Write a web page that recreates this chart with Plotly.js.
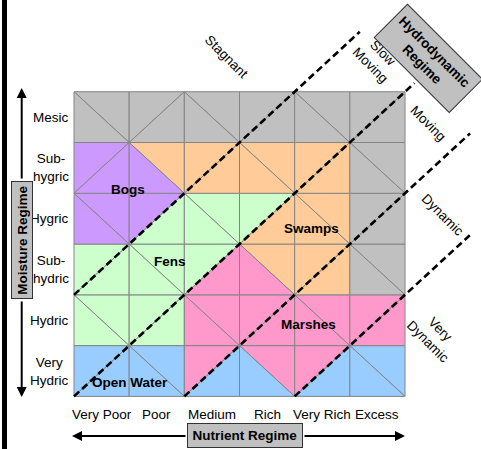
<!DOCTYPE html>
<html><head><meta charset="utf-8">
<script src="https://cdn.plot.ly/plotly-3.0.1.min.js"></script>
<style>html,body{margin:0;padding:0;background:#fff;overflow:hidden;} #chart{width:481px;height:449px;}</style>
</head><body><div id="chart"></div>
<script>
// ---------- data ----------
const nutrientLabels = ['Very Poor', 'Poor', 'Medium', 'Rich', 'Very Rich', 'Excess'];
const moistureLabels = ['Very<br>Hydric', 'Hydric', 'Sub-<br>hydric', 'Hygric', 'Sub-<br>hygric', 'Mesic']; // bottom -> top
// Region of each cell's two triangles (upper, lower); rows bottom -> top, columns = nutrient regime
const cellRegions = [
  ['WW', 'WW', 'MW', 'MW', 'MW', 'WW'],  // Very Hydric
  ['FF', 'FF', 'MM', 'MM', 'MM', 'MM'],  // Hydric
  ['FF', 'FF', 'FM', 'OM', 'OO', 'GG'],  // Sub-hydric
  ['PP', 'PF', 'FF', 'FO', 'OO', 'GG'],  // Hygric
  ['PP', 'OP', 'OO', 'OO', 'OO', 'GG'],  // Sub-hygric
  ['GG', 'GG', 'GG', 'GG', 'GG', 'GG']   // Mesic
];
const regionCodes = ['G', 'P', 'O', 'F', 'M', 'W'];
const regionNames = ['Upland', 'Bogs', 'Swamps', 'Fens', 'Marshes', 'Open Water'];
const wetlandLabels = ['Bogs', 'Fens', 'Swamps', 'Marshes', 'Open Water'];
const hydroLabels = ['Stagnant', 'Slow<br>Moving', 'Moving', 'Dynamic', 'Very<br>Dynamic'];
// hydrodynamic class boundaries (lines x - y = const in grid units): start point and run length
const boundaryStartX = [0, 0, 2, 4];
const boundaryStartY = [2, 0, 0, 0];
const boundaryRun = [5.18, 6.17, 5.18, 3.18];

// ---------- styles ----------
const regionColors = {G: '#c0c0c0', P: '#cc99ff', O: '#ffcc99', F: '#ccffcc', M: '#ff99cc', W: '#99ccff'};
const FONT = 'Liberation Sans, Arial, sans-serif';
const W = 481, H = 449;
// grid placement in pixels
const gx0 = 74, gxs = 55.17, gy0 = 396.4, gys = 50.78;
const xr = [-gx0 / gxs, (W - gx0) / gxs];
const yr = [(gy0 - H) / gys, gy0 / gys];
function P(px, py) { return {x: px / W, y: 1 - py / H, xref: 'paper', yref: 'paper', xanchor: 'center', yanchor: 'middle'}; }

function triangles(c, r) {
  const rowFromTop = 5 - r;
  if ((c + rowFromTop) % 2 === 0) {
    return [[[c, r + 1], [c + 1, r + 1], [c + 1, r]], [[c, r + 1], [c, r], [c + 1, r]]];
  }
  return [[[c, r], [c, r + 1], [c + 1, r + 1]], [[c, r], [c + 1, r], [c + 1, r + 1]]];
}

const traces = [];
cellRegions.forEach((row, r) => {
  row.forEach((code, c) => {
    const tris = triangles(c, r);
    tris.forEach((tri, k) => {
      const reg = code[k];
      traces.push({
        type: 'scatter', mode: 'lines',
        x: [tri[0][0], tri[1][0], tri[2][0], tri[0][0]],
        y: [tri[0][1], tri[1][1], tri[2][1], tri[0][1]],
        fill: 'toself', fillcolor: regionColors[reg],
        line: {color: '#858585', width: 1},
        name: regionNames[regionCodes.indexOf(reg)],
        hoverinfo: 'skip', showlegend: false
      });
    });
  });
});
boundaryStartX.forEach((sx, i) => {
  const sy = boundaryStartY[i], L = boundaryRun[i];
  traces.push({
    type: 'scatter', mode: 'lines',
    x: [sx, sx + L], y: [sy, sy + L],
    line: {color: '#000', width: 2.6, dash: '7px,4px'},
    hoverinfo: 'skip', showlegend: false
  });
});

const annotations = [];
nutrientLabels.forEach((t, i) => annotations.push({
  x: i + 0.5, y: (gy0 - 414) / gys, xref: 'x', yref: 'y', text: t, showarrow: false,
  xanchor: 'center', yanchor: 'middle',
  font: {family: FONT, size: 13.5, color: '#000'}
}));
moistureLabels.forEach((t, i) => annotations.push({
  x: (71 - gx0) / gxs, y: i + 0.5, xref: 'x', yref: 'y', text: t, showarrow: false,
  xanchor: 'right', yanchor: 'middle', align: 'center',
  font: {family: FONT, size: 13.5, color: '#000'}
}));
const wetlandPos = [[128, 189], [170, 261], [311, 228], [308, 324], [130, 382]];
wetlandLabels.forEach((t, i) => annotations.push(Object.assign(P(wetlandPos[i][0], wetlandPos[i][1]), {
  text: '<b>' + t + '</b>', showarrow: false, font: {family: FONT, size: 13.5, color: '#000'}
})));
const hydroPos = [[226, 57], [377, 59], [428, 124], [442, 215], [434, 335]];
hydroLabels.forEach((t, i) => annotations.push(Object.assign(P(hydroPos[i][0], hydroPos[i][1]), {
  text: t, showarrow: false, textangle: 45, align: 'center',
  font: {family: FONT, size: 13.5, color: '#000'}
})));
// axis titles in boxes
annotations.push(Object.assign(P(428, 58), {
  text: '<b>Hydrodynamic<br>Regime</b>', showarrow: false, textangle: 45, align: 'center',
  width: 97, height: 38, borderpad: 4, bgcolor: '#c0c0c0', bordercolor: '#333', borderwidth: 1,
  font: {family: FONT, size: 13.5, color: '#000'}
}));
annotations.push(Object.assign(P(245, 435.5), {
  text: '<b>Nutrient Regime</b>', showarrow: false,
  width: 108, height: 17, borderpad: 3, bgcolor: '#c0c0c0', bordercolor: '#333', borderwidth: 1,
  font: {family: FONT, size: 13.5, color: '#000'}
}));
annotations.push(Object.assign(P(22, 240), {
  text: '<b>Moisture Regime</b>', showarrow: false, textangle: -90,
  width: 112, height: 16, borderpad: 2, bgcolor: '#c0c0c0', bordercolor: '#333', borderwidth: 1,
  font: {family: FONT, size: 13.5, color: '#000'}
}));
// arrows
function arrow(tx, ty, fx, fy) {
  return Object.assign(P(tx, ty), {
    text: '', showarrow: true, ax: fx - tx, ay: fy - ty,
    arrowhead: 2, arrowsize: 1, arrowwidth: 2, arrowcolor: '#000', standoff: 0, startstandoff: 0
  });
}
annotations.push(arrow(21.7, 88, 21.7, 180));
annotations.push(arrow(21.7, 397, 21.7, 300));
annotations.push(arrow(72, 436, 187, 436));
annotations.push(arrow(405, 436, 303, 436));

const layout = {
  width: W, height: H, autosize: false,
  margin: {l: 0, r: 0, t: 0, b: 0, pad: 0},
  paper_bgcolor: '#fff', plot_bgcolor: '#fff',
  xaxis: {range: xr, visible: false, fixedrange: true},
  yaxis: {range: yr, visible: false, fixedrange: true},
  showlegend: false,
  annotations: annotations,
  shapes: [{type: 'rect', xref: 'paper', yref: 'paper', x0: 2 / W, x1: 7 / W, y0: 0, y1: 1,
            fillcolor: '#000', line: {width: 0}, layer: 'above'}]
};
Plotly.newPlot('chart', traces, layout, {staticPlot: true, displayModeBar: false});
</script>
</body></html>
